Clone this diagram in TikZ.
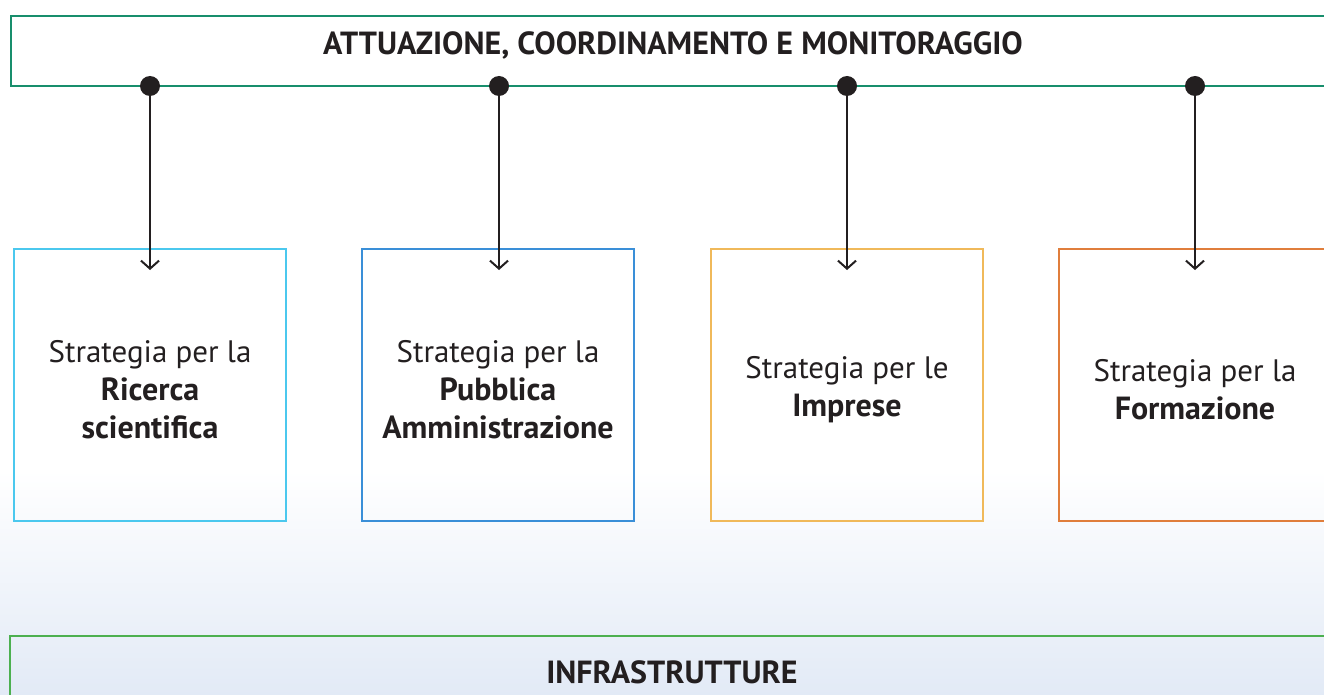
\documentclass[tikz,border=0pt]{standalone}
\usepackage{fontspec}
\setmainfont{PT Sans}
\usetikzlibrary{arrows.meta}
\definecolor{topgreen}{RGB}{24,142,108}
\definecolor{botgreen}{RGB}{76,176,80}
\definecolor{cA}{RGB}{75,200,238}
\definecolor{cB}{RGB}{58,143,216}
\definecolor{cC}{RGB}{240,185,90}
\definecolor{cD}{RGB}{224,126,60}
\definecolor{ink}{RGB}{35,31,32}
\definecolor{bgblue}{RGB}{226,234,246}
\tikzset{
  band/.style={draw, line width=2pt, minimum height=70pt, inner sep=0pt},
  bandtext/.style={text=ink, font=\fontsize{32}{36}\selectfont\bfseries},
  stratbox/.style={draw, line width=2pt, minimum width=272pt, minimum height=272pt, inner sep=0pt},
  strattext/.style={align=center, text=ink, font=\fontsize{31}{38}\selectfont, inner sep=0pt},
  dot/.style={circle, fill=ink, minimum size=20pt, inner sep=0pt},
  arr/.style={draw=ink, line width=2pt, -{Straight Barb[length=8pt,width=18pt,line width=2pt]}},
}
\newcommand{\hbf}[1]{{\fontsize{32}{38}\selectfont\bfseries #1}}
\begin{document}
\begin{tikzpicture}[x=1pt,y=-1pt]
\clip (0,0) rectangle (1324,695);
\shade[top color=white, bottom color=bgblue] (0,470) rectangle (1324,695);
\fill[white] (0,0) rectangle (1324,470);
\node[band, draw=topgreen, minimum width=1329pt] (top) at (675.5,51) {};
\node[bandtext] (toptext) at (673,45) {ATTUAZIONE, COORDINAMENTO E MONITORAGGIO};
\node[stratbox, draw=cA] (b1) at (150,385) {};
\node[stratbox, draw=cB] (b2) at (498,385) {};
\node[stratbox, draw=cC] (b3) at (847,385) {};
\node[stratbox, draw=cD] (b4) at (1195,385) {};
\node[strattext] (t1) at (150,390) {Strategia per la\\\hbf{Ricerca}\\\hbf{scientifica}};
\node[strattext] (t2) at (498,390) {Strategia per la\\\hbf{Pubblica}\\\hbf{Amministrazione}};
\node[strattext] (t3) at (847,390) {Strategia per le\\\hbf{Imprese}};
\node[strattext] (t4) at (1195,390) {Strategia per la\\\hbf{Formazione}};
\foreach \i/\x in {1/150,2/499,3/847,4/1195}{
  \node[dot] (d\i) at (\x,86) {};
  \coordinate (a\i) at (\x,270);
  \draw[arr] (d\i.center) -- (a\i);
}
\node[band, draw=botgreen, minimum width=1330pt, minimum height=120pt] (bot) at (675,696) {};
\node[bandtext] (bottext) at (672,672) {INFRASTRUTTURE};
\end{tikzpicture}
\end{document}
